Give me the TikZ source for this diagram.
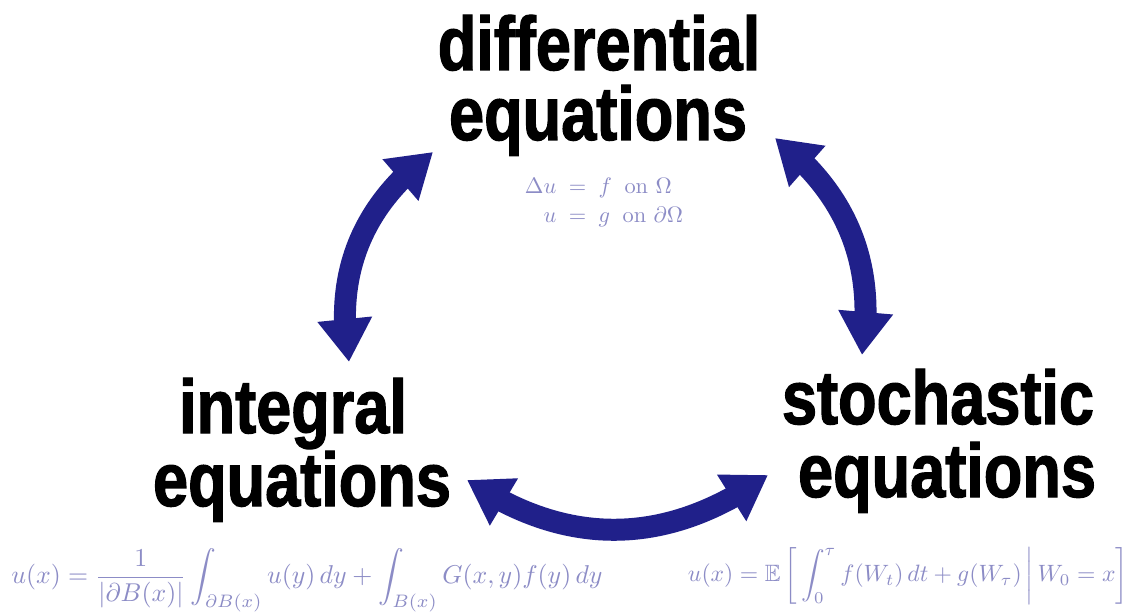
\documentclass[tikz,border=0pt]{standalone}
\usepackage{amsmath,amssymb}
\usepackage{fontspec}
\usetikzlibrary{arrows.meta,bending}
\newfontfamily\titlefont[FakeStretch=0.83,BoldFeatures={FakeBold=1.6}]{Liberation Sans}
\definecolor{arrowblue}{RGB}{32,32,138}
\definecolor{mathlav}{RGB}{140,140,198}
\tikzset{
  title/.style={font=\titlefont\bfseries\fontsize{76}{76}\selectfont, anchor=base, inner sep=0pt, text=black},
  formula/.style={text=mathlav, inner sep=0pt},
  link/.style={draw=arrowblue, color=arrowblue, line width=22pt,
    {Triangle[width=52pt,length=43pt,flex]}-{Triangle[width=52pt,length=43pt,flex]}}
}
\begin{document}
\begin{tikzpicture}[x=1pt,y=-1pt]
\path[use as bounding box, fill=white] (0,0) rectangle (1139,612);

% titles
\node[title] (d1) at (599,70) {differential};
\node[title] (d2) at (598,140) {equations};
\node[title] (i1) at (293,433) {integral};
\node[title] (i2) at (302,506) {equations};
\node[title] (s1) at (938,424) {stochastic};
\node[title] (s2) at (947,497) {equations};

% formulas
\node[formula] (fde) at (604,203) {\resizebox{158pt}{!}{$\begin{array}{@{}r@{\;\;=\;\;}l@{}}\Delta u & f\;\;\mathrm{on}\ \Omega\\[1pt] u & g\;\;\mathrm{on}\ \partial\Omega\end{array}$}};
\node[formula] (fie) at (307,580) {\resizebox{591pt}{!}{$\displaystyle u(x) = \frac{1}{|\partial B(x)|}\int_{\partial B(x)} u(y)\,dy + \int_{B(x)} G(x,y) f(y)\,dy$}};
\node[formula] (fse) at (908,576) {\resizebox{440pt}{!}{$\displaystyle u(x) = \mathbb{E}\left[\,\int_0^\tau f(W_t)\,dt + g(W_\tau)\,\middle|\, W_0 = x\right]$}};

% arrow tips
\coordinate (lt) at (433,152);
\coordinate (lb) at (349,362);
\coordinate (rt) at (775,138);
\coordinate (rb) at (862,355);
\coordinate (bl) at (467,480);
\coordinate (br) at (768,475);

\draw[link] (lt) .. controls (361.6,204.8) and (333.6,274.8) .. (lb);
\draw[link] (rt) .. controls (847.3,193) and (876.3,265.3) .. (rb);
\draw[link] (bl) .. controls (567.3,548) and (667.7,546.3) .. (br);
\end{tikzpicture}
\end{document}
